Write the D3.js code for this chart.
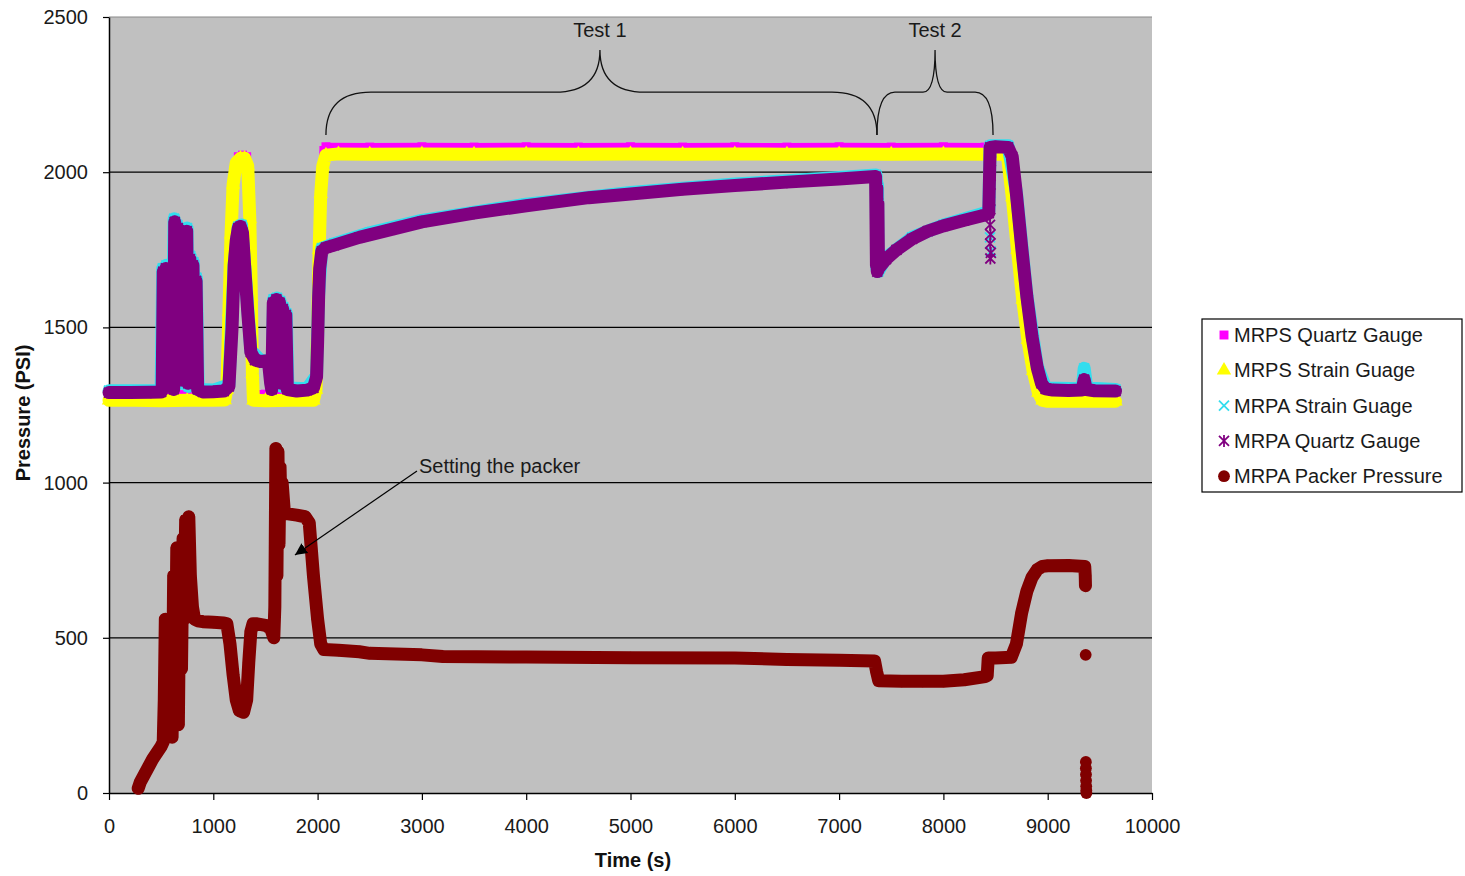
<!DOCTYPE html>
<html>
<head>
<meta charset="utf-8">
<script src="https://cdn.jsdelivr.net/npm/d3@7"></script>
<style>
  body { margin: 0; background: #fff; }
  text { font-family: "Liberation Sans", Arial, sans-serif; }
</style>
</head>
<body>
<svg id="chart" width="1465" height="876"></svg>
<script>
// ---- Data: [time (s), pressure (psi)]; connected runs, plus stray readings ----
const mrpsQuartz = [
  [0,1285],[250,1285],[500,1286],[750,1285],[1000,1286],[1120,1287],[1150,1310],[1170,1600],
  [1190,1880],[1210,2010],[1240,2050],[1280,2055],[1320,2050],[1345,2000],[1360,1700],[1372,1400],
  [1385,1286],[1500,1285],[1750,1285],[1970,1286],[2000,1320],[2015,1600],[2030,1850],[2045,2000],
  [2060,2070],[2080,2082],[2500,2081],[3000,2082],[3500,2081],[4000,2082],[4500,2081],[5000,2082],
  [5500,2081],[6000,2082],[6500,2081],[7000,2082],[7500,2081],[8000,2082],[8400,2081],[8620,2078],
  [8680,1950],[8740,1770],[8800,1600],[8860,1450],[8920,1340],[8970,1290],[9200,1286],[9400,1286],[9650,1287]
];
const mrpsStrain = [
  [0,1265],[250,1265],[500,1264],[750,1265],[1000,1265],[1110,1266],[1130,1300],[1150,1550],
  [1170,1800],[1190,1960],[1220,2030],[1260,2045],[1300,2045],[1330,2020],[1350,1850],[1365,1600],
  [1375,1350],[1385,1265],[1500,1264],[1750,1265],[1960,1265],[1985,1300],[2000,1500],[2015,1750],
  [2030,1930],[2050,2020],[2080,2055],[2200,2059],[2500,2058],[3000,2059],[3500,2058],[4000,2059],
  [4500,2058],[5000,2059],[5500,2058],[6000,2059],[6500,2058],[7000,2059],[7500,2058],[8000,2059],
  [8400,2058],[8580,2058],[8615,2050],[8660,1920],[8710,1750],[8760,1590],[8810,1460],[8860,1360],
  [8910,1290],[8950,1265],[9000,1262],[9200,1262],[9400,1262],[9650,1262]
];
const mrpaStrain = [
  [0,1296],[250,1296],[500,1297],[515,1690],[535,1320],[550,1700],[570,1350],[585,1660],[600,1310],
  [625,1850],[640,1330],[655,1830],[672,1380],[688,1800],[703,1320],[718,1780],[733,1420],[748,1820],
  [763,1310],[778,1730],[793,1360],[808,1710],[823,1320],[838,1660],[855,1300],[1000,1298],[1150,1315],
  [1200,1705],[1240,1825],[1270,1830],[1300,1705],[1360,1425],[1450,1395],[1530,1390],[1560,1305],
  [1578,1590],[1595,1340],[1610,1595],[1625,1380],[1640,1585],[1655,1310],[1670,1565],[1688,1330],
  [1700,1545],[1715,1305],[1900,1302],[1990,1345],[2010,1605],[2040,1755],[2160,1770],[2500,1805],
  [3000,1845],[4000,1897],[5000,1935],[6000,1962],[7000,1983],[7355,1991],[7362,1690],[7368,1960],
  [7375,1680],[7450,1725],[7700,1790],[8000,1830],[8435,1873],[8448,2085],[8620,2085],[8700,1935],
  [8800,1605],[8900,1375],[8980,1305],[9330,1302],[9350,1368],[9375,1305],[9650,1300]
];
const mrpaStrainStray = [[8452,1905],[8447,1790],[8455,1745]];
const mrpaQuartz = [
  [0,1290],[200,1290],[400,1291],[500,1292],[510,1300],[520,1680],[530,1350],[545,1690],[560,1400],
  [575,1650],[590,1320],[605,1600],[620,1300],[630,1840],[645,1350],[660,1820],[675,1400],[690,1790],
  [705,1330],[720,1760],[735,1450],[745,1810],[760,1320],[775,1720],[790,1380],[805,1700],[820,1330],
  [835,1650],[850,1300],[900,1292],[1000,1293],[1100,1295],[1150,1310],[1180,1500],[1200,1700],
  [1220,1780],[1240,1820],[1260,1825],[1280,1805],[1300,1700],[1330,1550],[1360,1420],[1400,1395],
  [1450,1390],[1500,1392],[1530,1385],[1550,1320],[1560,1300],[1575,1580],[1590,1350],[1605,1590],
  [1620,1400],[1635,1580],[1650,1320],[1665,1560],[1680,1350],[1695,1540],[1710,1300],[1800,1295],
  [1900,1298],[1960,1305],[1990,1340],[2000,1450],[2010,1600],[2020,1690],[2040,1745],[2080,1757],
  [2160,1765],[2400,1790],[2700,1815],[3000,1840],[3500,1868],[4000,1892],[4600,1918],[5000,1930],
  [5500,1945],[6000,1957],[6500,1968],[7000,1978],[7350,1986],[7358,1700],[7362,1950],[7366,1680],
  [7372,1900],[7378,1690],[7450,1720],[7550,1750],[7700,1785],[7850,1810],[8000,1827],[8200,1845],
  [8400,1862],[8435,1868],[8448,2080],[8500,2082],[8620,2080],[8660,2050],[8700,1930],[8750,1760],
  [8800,1600],[8850,1470],[8900,1370],[8940,1320],[8980,1302],[9050,1298],[9200,1297],[9330,1298],
  [9350,1332],[9370,1300],[9450,1296],[9650,1295]
];
const mrpaQuartzStray = [[8455,2035],[8452,1960],[8450,1880],[8447,1830],[8452,1800],[8448,1770],[8455,1740],[8450,1722]];
const packerPressure = [
  [280,15],[300,35],[340,60],[380,85],[420,110],[460,130],[500,150],[520,165],[530,300],[540,560],
  [550,200],[560,480],[575,250],[590,520],[605,180],[620,700],[635,300],[650,790],[665,220],[680,750],
  [695,400],[710,820],[720,560],[735,880],[750,620],[765,890],[780,700],[800,600],[820,560],[850,555],
  [900,552],[1000,550],[1100,548],[1130,545],[1160,480],[1190,380],[1220,300],[1250,265],[1290,260],
  [1320,300],[1340,420],[1360,520],[1380,545],[1420,545],[1500,540],[1550,530],[1580,500],[1590,600],
  [1600,1110],[1610,700],[1620,1100],[1630,800],[1640,1050],[1650,900],[1660,1000],[1680,910],
  [1700,900],[1800,895],[1880,890],[1920,870],[1960,700],[2000,560],[2030,480],[2060,462],[2200,460],
  [2400,455],[2500,450],[3000,445],[3200,440],[4000,438],[5000,436],[6000,435],[6500,430],[7000,428],
  [7340,425],[7360,390],[7380,362],[7600,360],[7800,360],[8000,360],[8200,365],[8400,375],[8420,378],
  [8430,435],[8500,435],[8650,437],[8700,480],[8750,580],[8800,650],[8850,695],[8900,720],[8950,730],
  [9000,732],[9200,733],[9355,730],[9360,700],[9362,668]
];
const packerPressureStray = [[9364,445],[9366,100],[9366,80],[9367,60],[9368,40],[9369,22],[9370,8],[9371,0]];

const seriesNames = ["MRPS Quartz Gauge","MRPS Strain Guage","MRPA Strain Guage","MRPA Quartz Gauge","MRPA Packer Pressure"];
const xTicks = [0,1000,2000,3000,4000,5000,6000,7000,8000,9000,10000];
const yTicks = [0,500,1000,1500,2000,2500];

// Braces over the two tests: [start time, tip time, end time]
const braceTest1 = [2080, 4707, 7363];
const braceTest2 = [7363, 7920, 8476];
const braceLevels = [2120, 2258, 2394];   // end, bar, tip (psi)
const braceLabels = ["Test 1", "Test 2"];
const braceLabelLevel = 2458;

// Callout: text anchor and arrow [time, psi]
const noteText = "Setting the packer";
const noteAnchor = [2972, 1031];
const noteArrowFrom = [2953, 1037];
const noteArrowTo = [1783, 767];

// ---- Layout ----
const svg = d3.select("#chart");
const x = d3.scaleLinear().domain([0, 10000]).range([109, 1152]);
const y = d3.scaleLinear().domain([0, 2500]).range([793, 17]);
const FONT = 20;

svg.append("rect").attr("width", 1465).attr("height", 876).attr("fill", "#fff");

// Plot area
svg.append("rect")
  .attr("x", x(0)).attr("y", y(2500))
  .attr("width", x(10000) - x(0)).attr("height", y(0) - y(2500))
  .attr("fill", "#c0c0c0");

// Gridlines
svg.append("g").selectAll("line").data(yTicks.filter(v => v > 0)).join("line")
  .attr("x1", x(0)).attr("x2", x(10000))
  .attr("y1", d => y(d)).attr("y2", d => y(d))
  .attr("stroke", d => d === 2500 ? "#8a8a8a" : "#000")
  .attr("stroke-width", 1.2);

// Axes
const yAxis = svg.append("g").attr("transform", `translate(${x(0)},0)`)
  .call(d3.axisLeft(y).tickValues(yTicks).tickSize(6).tickPadding(15).tickSizeOuter(0).tickFormat(d3.format("d")));
const xAxis = svg.append("g").attr("transform", `translate(0,${y(0)})`)
  .call(d3.axisBottom(x).tickValues(xTicks).tickSize(7).tickPadding(19).tickSizeOuter(0).tickFormat(d3.format("d")));
[yAxis, xAxis].forEach(a => {
  a.select(".domain").attr("stroke", "#000").attr("stroke-width", 1.5);
  a.selectAll(".tick line").attr("stroke", "#000").attr("stroke-width", 1.2);
  a.selectAll(".tick text").attr("font-size", FONT).attr("fill", "#1a1a1a")
    .attr("font-family", "'Liberation Sans', Arial, sans-serif");
});

// Axis titles
svg.append("text")
  .attr("transform", `translate(30,413) rotate(-90)`)
  .attr("text-anchor", "middle").attr("font-size", FONT).attr("font-weight", "bold")
  .attr("fill", "#111").text("Pressure (PSI)");
svg.append("text")
  .attr("x", 633).attr("y", 867)
  .attr("text-anchor", "middle").attr("font-size", FONT).attr("font-weight", "bold")
  .attr("fill", "#111").text("Time (s)");

// ---- Markers ----
const markers = {
  square:   { d: d3.symbol(d3.symbolSquare, 80)(), fill: true },
  triangle: { d: d3.symbol(d3.symbolTriangle, 90)(), fill: true },
  cross:    { d: "M-5,-5L5,5M-5,5L5,-5", fill: false },
  star:     { d: "M-5,-5L5,5M-5,5L5,-5M0,-6L0,6", fill: false },
  circle:   { d: d3.symbol(d3.symbolCircle, 110)(), fill: true }
};

const series = [
  { data: mrpsQuartz,     stray: [],                  color: "#ff00ff", width: 8,  marker: "square" },
  { data: mrpsStrain,     stray: [],                  color: "#ffff00", width: 13, marker: "triangle" },
  { data: mrpaStrain,     stray: mrpaStrainStray,     color: "#33ddee", width: 13, marker: "cross" },
  { data: mrpaQuartz,     stray: mrpaQuartzStray,     color: "#800080", width: 13, marker: "star" },
  { data: packerPressure, stray: packerPressureStray, color: "#800000", width: 13, marker: "circle" }
];

const line = d3.line().x(d => x(d[0])).y(d => y(d[1]));
const plot = svg.append("g");

series.forEach(s => {
  const g = plot.append("g");
  g.append("path").datum(s.data)
    .attr("d", line).attr("fill", "none")
    .attr("stroke", s.color).attr("stroke-width", s.width)
    .attr("stroke-linejoin", "round").attr("stroke-linecap", "round");
  const m = markers[s.marker];
  g.selectAll("path.pt").data(s.data.concat(s.stray)).join("path").attr("class", "pt")
    .attr("transform", d => `translate(${x(d[0])},${y(d[1])})`)
    .attr("d", m.d)
    .attr("fill", m.fill ? s.color : "none")
    .attr("stroke", s.color).attr("stroke-width", m.fill ? 0 : 1.8);
});

// ---- Braces ----
function bracePath(b, r, r2) {
  const [xa, xm, xb] = b.map(x);
  const [yEnd, yBar, yTip] = braceLevels.map(y);
  return `M${xa},${yEnd} Q${xa},${yBar} ${xa + r},${yBar} L${xm - r2},${yBar} ` +
         `Q${xm},${yBar} ${xm},${yTip} Q${xm},${yBar} ${xm + r2},${yBar} ` +
         `L${xb - r},${yBar} Q${xb},${yBar} ${xb},${yEnd}`;
}
svg.append("path").attr("d", bracePath(braceTest1, 45, 45))
  .attr("fill", "none").attr("stroke", "#111").attr("stroke-width", 1.3);
svg.append("path").attr("d", bracePath(braceTest2, 18, 12))
  .attr("fill", "none").attr("stroke", "#111").attr("stroke-width", 1.3);
[braceTest1, braceTest2].forEach((b, i) => {
  svg.append("text").attr("x", x(b[1])).attr("y", y(braceLabelLevel)).attr("dy", "0.35em")
    .attr("text-anchor", "middle").attr("font-size", FONT).attr("fill", "#1a1a1a").text(braceLabels[i]);
});

// ---- Callout ----
svg.append("defs").append("marker")
  .attr("id", "arrowhead").attr("viewBox", "0 0 10 10").attr("refX", 10).attr("refY", 5)
  .attr("markerWidth", 12).attr("markerHeight", 12).attr("markerUnits", "userSpaceOnUse")
  .attr("orient", "auto")
  .append("path").attr("d", "M0,0L10,5L0,10z").attr("fill", "#000");
svg.append("line")
  .attr("x1", x(noteArrowFrom[0])).attr("y1", y(noteArrowFrom[1]))
  .attr("x2", x(noteArrowTo[0])).attr("y2", y(noteArrowTo[1]))
  .attr("stroke", "#000").attr("stroke-width", 1.2).attr("marker-end", "url(#arrowhead)");
svg.append("text").attr("x", x(noteAnchor[0])).attr("y", y(noteAnchor[1]))
  .attr("font-size", FONT).attr("fill", "#1a1a1a").text(noteText);

// ---- Legend ----
const legend = svg.append("g").attr("transform", "translate(1202,319)");
legend.append("rect").attr("width", 260).attr("height", 173)
  .attr("fill", "#fff").attr("stroke", "#000").attr("stroke-width", 1.2);
series.forEach((s, i) => {
  const cy = 16 + i * 35.3;
  const m = markers[s.marker];
  legend.append("path").attr("transform", `translate(22,${cy})`).attr("d", m.d)
    .attr("fill", m.fill ? s.color : "none")
    .attr("stroke", s.color).attr("stroke-width", m.fill ? 0 : 1.8);
  legend.append("text").attr("x", 32).attr("y", cy).attr("dy", "0.35em")
    .attr("font-size", FONT).attr("fill", "#1a1a1a").text(seriesNames[i]);
});
</script>
</body>
</html>
